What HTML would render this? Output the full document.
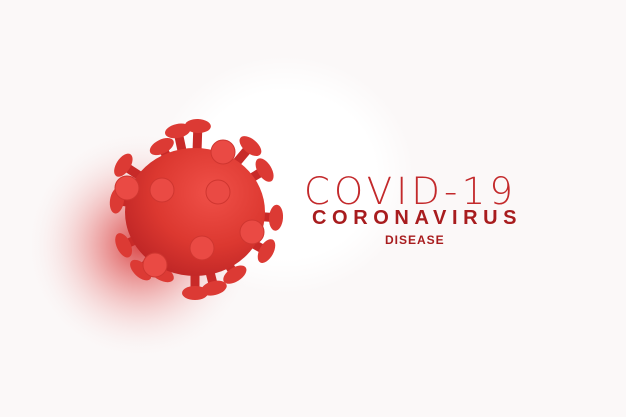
<!DOCTYPE html>
<html><head><meta charset="utf-8"><style>
html,body{margin:0;padding:0;width:626px;height:417px;overflow:hidden;background:#fbf8f8}
svg{position:absolute;left:0;top:0}
.t{position:absolute;font-family:"Liberation Sans",sans-serif;color:#b92326;white-space:nowrap}
</style></head><body>
<svg width="626" height="417">
<defs>
<radialGradient id="glow" cx="0.5" cy="0.5" r="0.5"><stop offset="0" stop-color="#d42a2a" stop-opacity="0.85"/><stop offset="0.45" stop-color="#e05050" stop-opacity="0.35"/><stop offset="1" stop-color="#fbf8f8" stop-opacity="0"/></radialGradient>
<radialGradient id="white" cx="0.5" cy="0.5" r="0.5"><stop offset="0.7" stop-color="#fff"/><stop offset="1" stop-color="#fff" stop-opacity="0"/></radialGradient>
<radialGradient id="body" cx="0.62" cy="0.35" r="0.7"><stop offset="0" stop-color="#f05048"/><stop offset="0.6" stop-color="#dc3830"/><stop offset="1" stop-color="#bf2626"/></radialGradient>
</defs>
<ellipse cx="285" cy="175" rx="130" ry="120" fill="url(#white)"/>
<ellipse cx="140" cy="245" rx="115" ry="115" fill="url(#glow)"/>
<g id="spikes"></g>
<ellipse cx="195" cy="212" rx="70" ry="64" fill="url(#body)"/>
<g id="discs"></g>
</svg>
<div class="t" style="left:304px;top:170px;font-family:'DejaVu Sans','Liberation Sans',sans-serif;font-size:37px;font-weight:200;letter-spacing:4.2px;color:#c3292b">COVID-19</div>
<div class="t" style="left:312px;top:207px;font-size:20px;font-weight:bold;letter-spacing:5.6px;color:#a81c1e">CORONAVIRUS</div>
<div class="t" style="left:385px;top:233px;font-size:12px;font-weight:bold;letter-spacing:1px;color:#a81c1e">DISEASE</div>
<script>
const NS='http://www.w3.org/2000/svg';
const cx=195,cy=212;
const tips=[[177,127],[198,122],[160,143],[253,143],[268,168],[280,218],[270,253],[237,278],[195,297],[215,292],[160,277],[138,273],[120,247],[113,200],[120,163]];
const discs=[[162,190],[218,192],[202,248],[252,232],[223,152],[127,188],[155,265]];
const sg=document.getElementById('spikes');
tips.forEach(([x,y])=>{
  const dx=x-cx,dy=y-cy,L=Math.hypot(dx,dy),ux=dx/L,uy=dy/L;
  const tx=cx+ux*(L-4),ty=cy+uy*(L-4);
  const ln=document.createElementNS(NS,'line');
  
  
  ln.setAttribute('x1',cx+ux*50);ln.setAttribute('y1',cy+uy*50);
  ln.setAttribute('x2',tx);ln.setAttribute('y2',ty);
  ln.setAttribute('stroke','#c82a28');ln.setAttribute('stroke-width','9');
  sg.appendChild(ln);
  const e=document.createElementNS(NS,'ellipse');
  
  
  e.setAttribute('cx',tx);e.setAttribute('cy',ty);e.setAttribute('rx','7');e.setAttribute('ry','13');
  e.setAttribute('fill','#dc3a34');
  e.setAttribute('transform','rotate('+(Math.atan2(dy,dx)*180/Math.PI)+' '+tx+' '+ty+')');
  sg.appendChild(e);
});
const dg=document.getElementById('discs');
discs.forEach(([x,y])=>{
  const c=document.createElementNS(NS,'circle');
  
  
  c.setAttribute('cx',x);c.setAttribute('cy',y);c.setAttribute('r','12');
  c.setAttribute('fill','#ea4a44');c.setAttribute('stroke','#cf3630');c.setAttribute('stroke-width','1');
  dg.appendChild(c);
});
</script>
</body></html>
